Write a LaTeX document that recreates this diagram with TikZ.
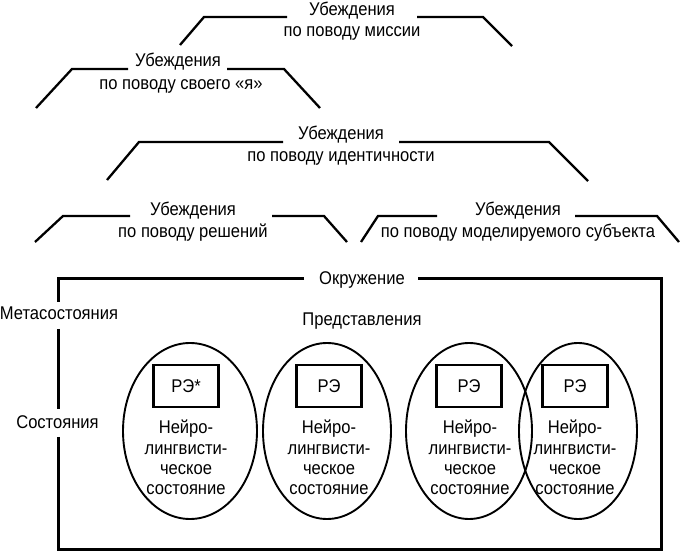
\documentclass[tikz,border=0pt]{standalone}
\usepackage{fontspec}
\setmainfont[FakeStretch=0.9]{Liberation Sans}
\usetikzlibrary{shapes.geometric}
\begin{document}
\begin{tikzpicture}[x=1pt,y=-1pt,
  lbl/.style={inner sep=0pt, text height=13pt, text depth=0pt, font=\fontsize{18.4}{20}\selectfont},
  body/.style={inner sep=0pt, align=center, anchor=north, font=\fontsize{18.4}{20.3}\selectfont},
  trap/.style={line width=2.3pt},
  frame/.style={line width=3pt},
  oval/.style={draw, ellipse, line width=1.9pt, inner sep=0pt, minimum height=176pt},
  rebox/.style={draw, line width=2.3pt, minimum width=65pt, minimum height=42pt, inner sep=0pt, font=\fontsize{18.4}{20}\selectfont}]
\useasboundingbox (0,0) rectangle (681,556);

% --- mission
\node[lbl] (m1) at (352,9) {Убеждения};
\node[lbl] (m2) at (352,30) {по поводу миссии};
\draw[trap] (180,45) -- (204,17) -- (287,17);
\draw[trap] (417,17) -- (483,17) -- (512,46);

% --- self
\node[lbl] (s1) at (178,60) {Убеждения};
\node[lbl] (s2) at (181,83) {по поводу своего «я»};
\draw[trap] (36,108) -- (72,69) -- (128,69);
\draw[trap] (227,69) -- (284,69) -- (320,108);

% --- identity
\node[lbl] (i1) at (341,133) {Убеждения};
\node[lbl] (i2) at (341,155) {по поводу идентичности};
\draw[trap] (107,180) -- (139,142) -- (283,142);
\draw[trap] (399,142) -- (549,142) -- (588,181);

% --- decisions
\node[lbl] (d1) at (193,209) {Убеждения};
\node[lbl] (d2) at (193,231) {по поводу решений};
\draw[trap] (35,242) -- (63,216) -- (130,216);
\draw[trap] (272,216) -- (324,216) -- (347,242);

% --- modelled subject
\node[lbl] (u1) at (518,209) {Убеждения};
\node[lbl] (u2) at (518,231) {по поводу моделируемого субъекта};
\draw[trap] (361,242) -- (378,216) -- (437,216);
\draw[trap] (575,216) -- (657,216) -- (679,242);

% --- environment frame
\node[lbl] (env) at (362,278) {Окружение};
\node[lbl] (rep) at (362,319) {Представления};
\node[lbl] (meta) at (59,313) {Метасостояния};
\node[lbl] (st) at (57.5,422) {Состояния};
\draw[frame] (304,279) -- (58,279) -- (58,302);
\draw[frame] (58,329) -- (58,409);
\draw[frame] (58,437) -- (58,549) -- (661,549) -- (661,279) -- (418,279);

% --- states
\node[oval, minimum width=134pt] (e1) at (190,431) {};
\node[oval, minimum width=128pt] (e2) at (327,431) {};
\node[oval, minimum width=126pt] (e3) at (469,431) {};
\node[oval, minimum width=118pt] (e4) at (578,431) {};

\node[rebox] (r1) at (186,386) {РЭ*};
\node[rebox] (r2) at (329,386) {РЭ};
\node[rebox] (r3) at (469,386) {РЭ};
\node[rebox] (r4) at (575,386) {РЭ};

\node[body] (b1) at (186,420) {Нейро-\\лингвисти-\\ческое\\состояние};
\node[body] (b2) at (329,420) {Нейро-\\лингвисти-\\ческое\\состояние};
\node[body] (b3) at (470,420) {Нейро-\\лингвисти-\\ческое\\состояние};
\node[body] (b4) at (575,420) {Нейро-\\лингвисти-\\ческое\\состояние};
\end{tikzpicture}
\end{document}
